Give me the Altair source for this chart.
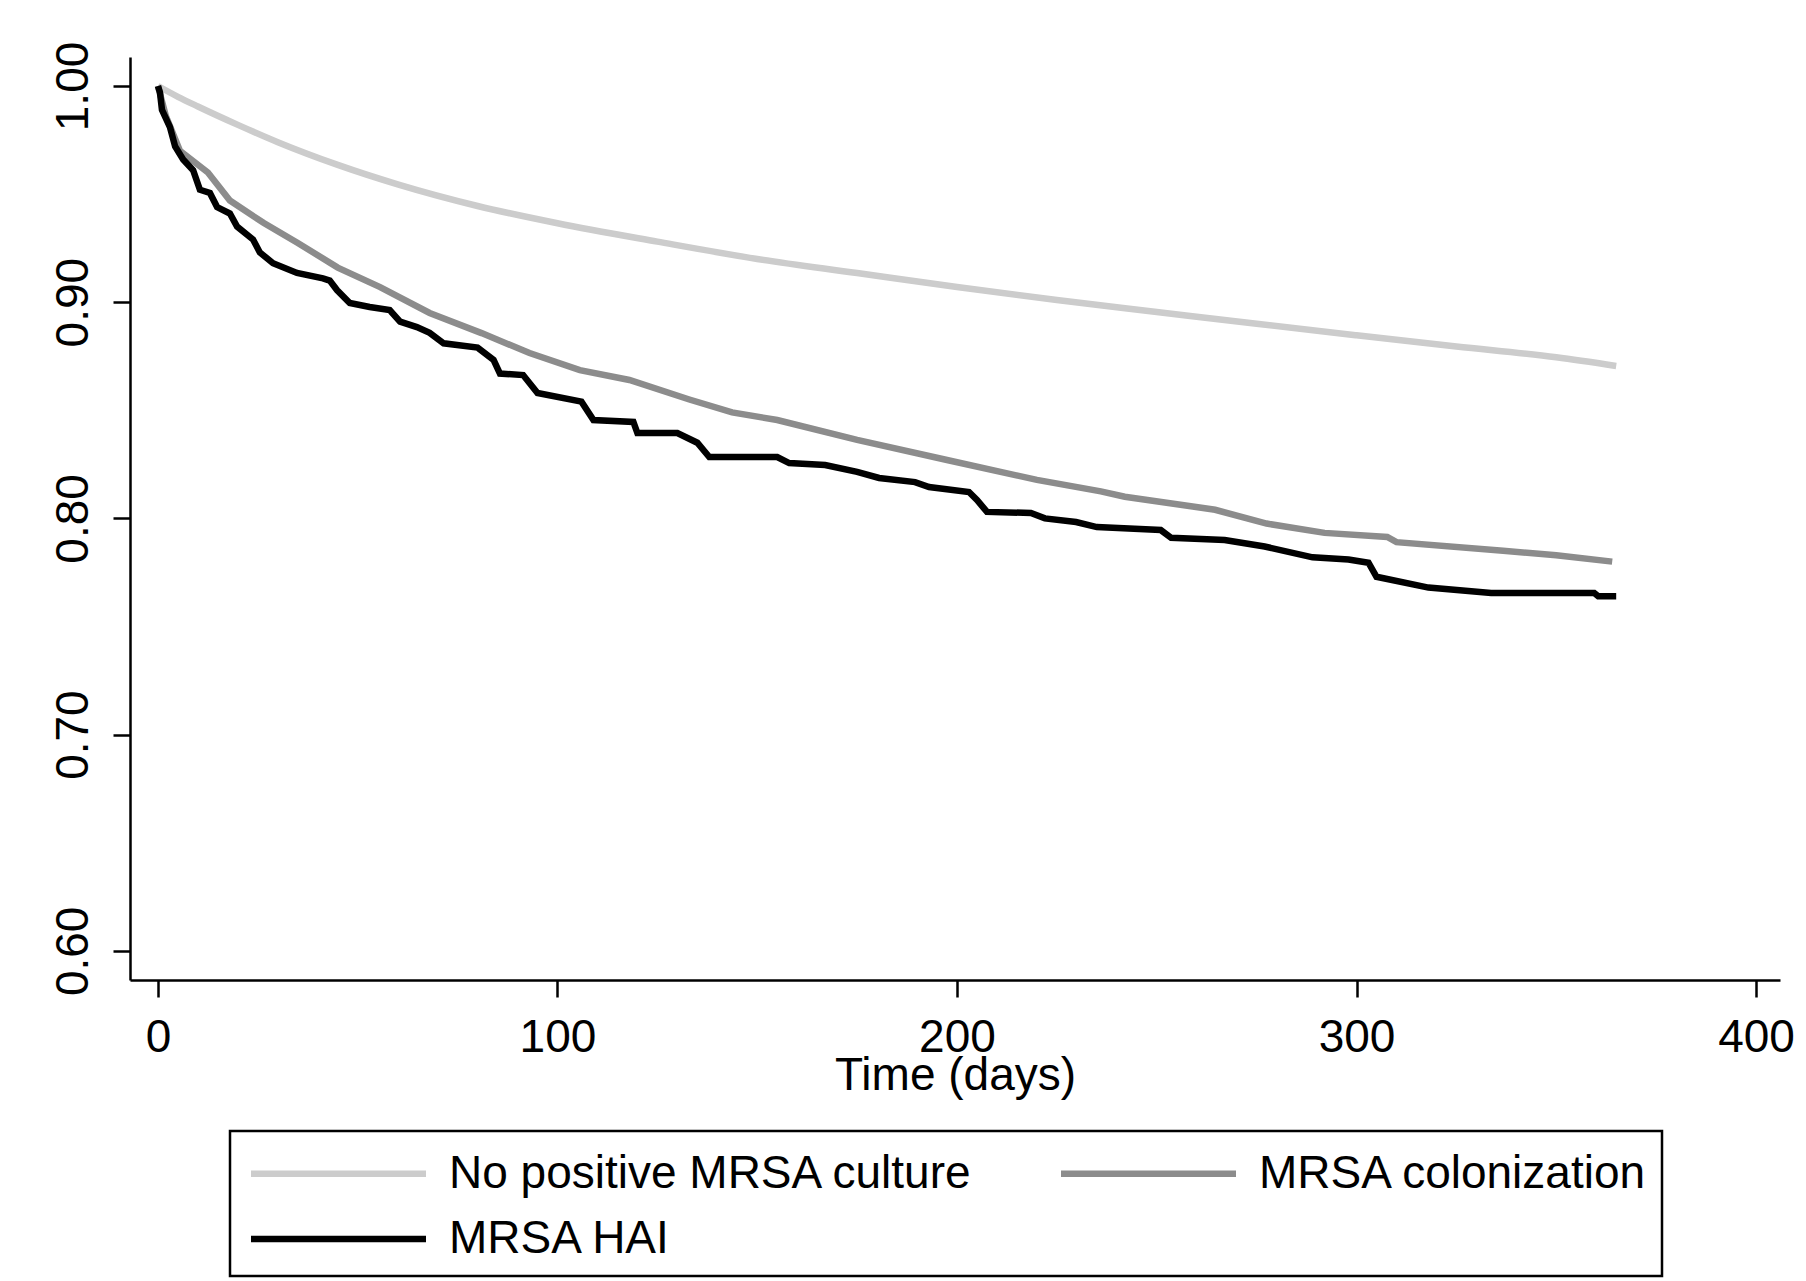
import altair as alt
import pandas as pd

# Series names (legend order)
series_names = ["No positive MRSA culture", "MRSA colonization", "MRSA HAI"]
series_colors = ["#cccccc", "#8c8c8c", "#000000"]

# No positive MRSA culture
none_days = [0, 5, 10, 20, 30, 45, 60, 80, 100, 125, 150, 175, 200, 225, 250, 275, 300, 325, 350, 365]
none_surv = [1.000, 0.995, 0.9905, 0.982, 0.974, 0.9635, 0.9545, 0.9445, 0.9365, 0.928, 0.920, 0.9135,
             0.907, 0.901, 0.8955, 0.890, 0.8847, 0.8795, 0.8745, 0.8705]

# MRSA colonization
col_days = [0, 2, 5.5, 12.5, 18, 26.5, 35, 45, 55.6, 68, 81, 93, 105.6, 118, 133, 143.7, 155, 175,
            197.5, 220, 236, 242, 264.6, 277.5, 292, 307.7, 310, 336.7, 350, 364]
col_surv = [1.000, 0.986, 0.970, 0.960, 0.947, 0.9366, 0.9274, 0.916, 0.907, 0.895, 0.8857, 0.8765,
            0.8686, 0.864, 0.855, 0.849, 0.8455, 0.8363, 0.827, 0.8178, 0.8125, 0.810, 0.804, 0.7976,
            0.7933, 0.7914, 0.789, 0.785, 0.783, 0.780]

# MRSA HAI
hai_days = [0, 0.5, 1, 3, 4.3, 6.3, 8.8, 10.5, 13, 14.8, 18, 19.8, 23.8, 25.5, 28.8, 34.8, 41.3, 43,
            44.8, 48, 53, 58, 60.6, 64.8, 68, 71.5, 80, 84, 85.6, 91.4, 95, 106, 109, 119, 120, 130,
            135, 138, 155, 158, 167, 175, 180.5, 189.5, 193, 203, 205, 207.5, 218.5, 222, 229.8, 235,
            251, 253.6, 267, 277, 289, 298, 303, 305, 318, 333.7, 359.5, 360.5, 365]
hai_surv = [1.000, 0.997, 0.989, 0.981, 0.972, 0.966, 0.961, 0.952, 0.9505, 0.944, 0.941, 0.935,
            0.929, 0.923, 0.918, 0.9135, 0.911, 0.910, 0.9056, 0.8996, 0.8978, 0.8964, 0.891, 0.8885,
            0.8858, 0.881, 0.879, 0.8733, 0.867, 0.8663, 0.858, 0.854, 0.8455, 0.8446, 0.8395, 0.8395,
            0.835, 0.8284, 0.8284, 0.8256, 0.8247, 0.8215, 0.8187, 0.8168, 0.8145, 0.8122, 0.8085,
            0.803, 0.8025, 0.800, 0.7983, 0.796, 0.7946, 0.791, 0.790, 0.787, 0.782, 0.781, 0.7795,
            0.773, 0.768, 0.7655, 0.7655, 0.764, 0.764]

x_ticks = [0, 100, 200, 300, 400]
y_ticks = [0.6, 0.7, 0.8, 0.9, 1.0]

FONT = "Liberation Sans"
LW = 6.5

series = [(series_names[0], none_days, none_surv, "monotone"),
          (series_names[1], col_days, col_surv, "linear"),
          (series_names[2], hai_days, hai_surv, "linear")]

x_enc = alt.X("days:Q", title="Time (days)",
              scale=alt.Scale(domain=[-7, 406], nice=False, zero=False),
              axis=alt.Axis(values=x_ticks, format="d", grid=False, titleY=109,
                            titleBaseline="alphabetic", titleFontWeight="normal",
                            titleFontSize=46, titleFont=FONT, titleColor="black",
                            labelPadding=18, labelFlush=False))
y_enc = alt.Y("surv:Q", title=None,
              scale=alt.Scale(domain=[0.5865, 1.0134], nice=False, zero=False),
              axis=alt.Axis(values=y_ticks, format=".2f", grid=False, labelAngle=-90,
                            labelPadding=16, labelFlush=False))
color_enc = alt.Color("group:N",
                      scale=alt.Scale(domain=series_names, range=series_colors),
                      legend=alt.Legend(orient="none", legendX=100, legendY=1074,
                                        direction="horizontal", columns=2, title=None,
                                        symbolType="M-3.5,0H3.5", symbolSize=2500,
                                        symbolStrokeWidth=LW, symbolOffset=66,
                                        labelFontSize=46, labelFont=FONT, labelColor="black",
                                        labelLimit=1200, labelOffset=82,
                                        columnPadding=74, rowPadding=13.5, padding=14,
                                        strokeColor="black"))

layers = []
for name, d, s, interp in series:
    df = pd.DataFrame({"days": d, "surv": s, "group": name})
    layers.append(
        alt.Chart(df).mark_line(strokeWidth=LW, interpolate=interp).encode(
            x=x_enc, y=y_enc, color=color_enc
        )
    )

chart = alt.layer(*layers).properties(
    width=1650, height=923,
    autosize=alt.AutoSizeParams(type="none"),
    padding={"left": 122, "top": 49, "right": 18, "bottom": 301},
).configure_view(stroke=None).configure_axis(
    domainColor="black", domainWidth=2.5, tickColor="black", tickWidth=2.5, tickSize=17,
    labelFont=FONT, labelFontSize=46, labelColor="black",
).configure_legend(strokeWidth=2.5)

chart.save("out.html", embed_options={"renderer": "svg", "actions": False})
